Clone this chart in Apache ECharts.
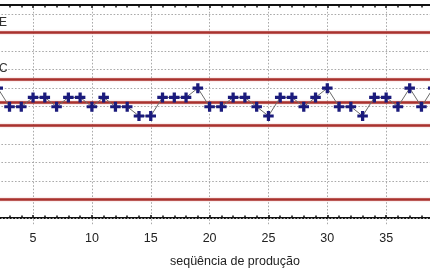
<!DOCTYPE html>
<html>
<head>
<meta charset="utf-8">
<script src="https://cdn.jsdelivr.net/npm/echarts@6/dist/echarts.min.js"></script>
<style>html,body{margin:0;padding:0;background:#fff}#c{width:430px;height:270px}</style>
</head>
<body>
<div id="c"></div>
<script>
// sequence numbers and measured values (in grid units)
const seq = [2,3,4,5,6,7,8,9,10,11,12,13,14,15,16,17,18,19,20,21,22,23,24,25,26,27,28,29,30,31,32,33,34,35,36,37,38,39];
const values = [7,6,6,6.5,6.5,6,6.5,6.5,6,6.5,6,6,5.5,5.5,6.5,6.5,6.5,7,6,6,6.5,6.5,6,5.5,6.5,6.5,6,6.5,7,6,6,5.5,6.5,6.5,6,7,6,7];
// limit lines
const limitValues = [10, 7.5, 6.25, 5, 1];
const limitLabels = ['LSE', 'LSC', '', '', ''];
// horizontal grid levels
const gridLevels = [0,1,2,3,4,5,6,7,8,9,10,11];
const xTitle = 'seqüência de produção';

const FONT = '"Liberation Sans", Arial, sans-serif';
const chart = echarts.init(document.getElementById('c'), null, {renderer: 'canvas'});
const plus = 'path://M3.1,0 H5.9 V3.1 H9 V5.9 H5.9 V9 H3.1 V5.9 H0 V3.1 H3.1 Z';

const xCommon = {
  type: 'value', min: 0, max: 40, interval: 5,
  axisLine: {show: true, lineStyle: {color: '#111', width: 2}},
  axisTick: {show: true, inside: true, length: 3, lineStyle: {color: '#111', width: 1.5}},
  minorTick: {show: true, splitNumber: 5, length: 2.5, lineStyle: {color: '#111', width: 1.5}},
  minorSplitLine: {show: false}
};

chart.setOption({
  animation: false,
  backgroundColor: '#fff',
  grid: {left: -25.8, right: -15, top: 5, bottom: 44, containLabel: false, outerBoundsMode: 'none'},
  xAxis: [
    Object.assign({}, xCommon, {
      position: 'bottom',
      axisLabel: {show: true, color: '#222', fontSize: 12.5, fontFamily: FONT, margin: 6},
      splitLine: {show: true, lineStyle: {color: '#aaa', type: [1.6, 1.8], width: 1}}
    }),
    Object.assign({}, xCommon, {
      position: 'top',
      axisLabel: {show: false},
      splitLine: {show: false}
    })
  ],
  yAxis: {
    type: 'value', min: -0.43, max: 11.48,
    axisLine: {show: false}, axisTick: {show: false}, axisLabel: {show: false}, splitLine: {show: false}
  },
  graphic: [{
    type: 'text', left: 170, top: 255,
    style: {text: xTitle, font: '12.5px ' + FONT, fill: '#222'}
  }],
  series: [
    {
      type: 'line', data: [], silent: true, z: 1,
      markLine: {
        silent: true, symbol: 'none', label: {show: false},
        lineStyle: {color: '#aaa', type: [1.6, 1.8], width: 1},
        data: gridLevels.map(v => ({yAxis: v}))
      }
    },
    {
      type: 'line', data: [], silent: true, z: 2,
      markLine: {
        silent: true, symbol: 'none',
        lineStyle: {color: '#a8322e', type: 'solid', width: 2.5, shadowColor: 'rgba(220,120,120,0.6)', shadowBlur: 2},
        label: {
          show: true, position: 'insideStartTop', distance: [10, 4],
          color: '#333', fontSize: 12, fontFamily: FONT,
          formatter: p => p.name
        },
        data: limitValues.map((v, i) => ({yAxis: v, name: limitLabels[i]}))
      }
    },
    {
      type: 'line', z: 5,
      data: seq.map((s, i) => [s, values[i]]),
      symbol: plus, symbolSize: [10.5, 10],
      itemStyle: {color: '#1b1b7c'},
      lineStyle: {color: '#6a6a6a', width: 1},
      showSymbol: true
    }
  ]
});
</script>
</body>
</html>
